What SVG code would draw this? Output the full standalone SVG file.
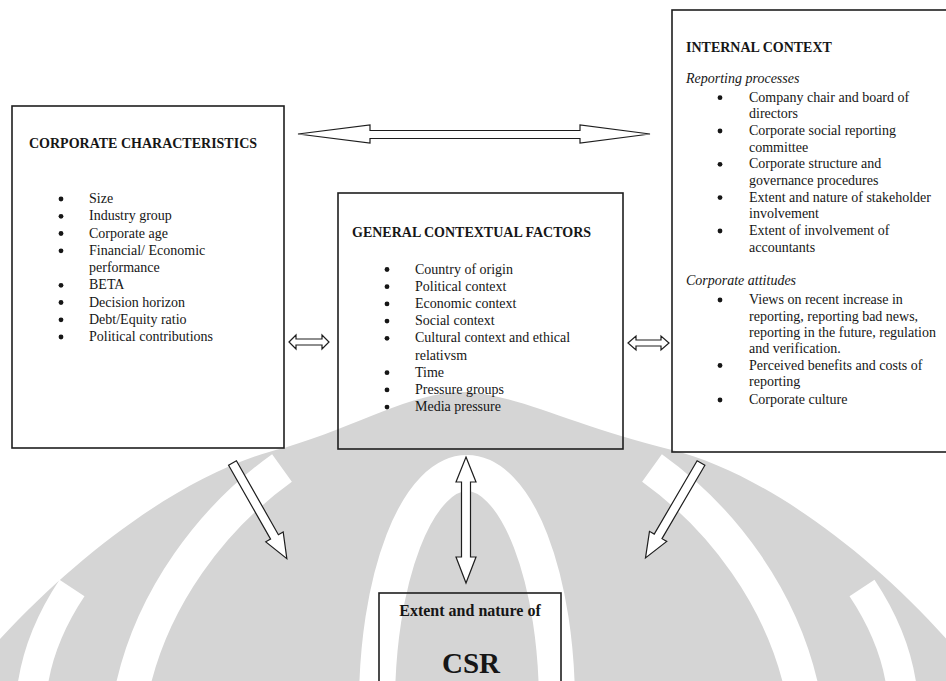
<svg xmlns="http://www.w3.org/2000/svg" width="946" height="681" viewBox="0 0 946 681">
<style>
.box{fill:none;stroke:#1e1e1e;stroke-width:1.6}
.arr{fill:#fff;stroke:#1e1e1e;stroke-width:1.2;stroke-linejoin:miter}
.t{font-family:"Liberation Serif","Times New Roman",serif;font-size:14px;fill:#161616}
.h{font-weight:bold}
.i{font-style:italic}
.wm{fill:#d5d5d5}
.wl{fill:none;stroke:#fff}
</style>
<defs>
<circle id="dot" r="2.4" fill="#161616"/>
</defs>
<rect width="946" height="681" fill="#fff"/>
<g id="watermark">
<path class="wm" d="M-10 681 L-10 650 C80 550 190 470 284 448 C360 425 410 393 462 392 C515 393 570 425 672 450 C760 472 870 550 956 650 L956 681 Z"/>
<path class="wl" stroke-width="34" d="M282 468 C212 518 152 598 132 690"/>
<path class="wl" stroke-width="34" d="M652 468 C722 518 782 598 802 690"/>
<path class="wl" stroke-width="30" d="M72 588 C52 618 37 650 32 690"/>
<path class="wl" stroke-width="30" d="M862 588 C882 618 897 650 902 690"/>
<ellipse class="wl" stroke-width="36" cx="467" cy="705" rx="90" ry="232"/>
</g>
<g id="corporate-characteristics">
<rect class="box" x="12" y="106" width="272" height="342"/>
<text class="t h" x="29" y="148">CORPORATE CHARACTERISTICS</text>
<g>
<use href="#dot" x="61" y="199"/><use href="#dot" x="61" y="216.3"/><use href="#dot" x="61" y="233.5"/><use href="#dot" x="61" y="250.8"/><use href="#dot" x="61" y="285.3"/><use href="#dot" x="61" y="302.5"/><use href="#dot" x="61" y="319.8"/><use href="#dot" x="61" y="337"/>
</g>
<g class="t">
<text x="89" y="203">Size</text>
<text x="89" y="220.3">Industry group</text>
<text x="89" y="237.5">Corporate age</text>
<text x="89" y="254.8">Financial/ Economic</text>
<text x="89" y="272">performance</text>
<text x="89" y="289.3">BETA</text>
<text x="89" y="306.5">Decision horizon</text>
<text x="89" y="323.8">Debt/Equity ratio</text>
<text x="89" y="341">Political contributions</text>
</g>
</g>
<g id="general-contextual-factors">
<rect class="box" x="338" y="193" width="285" height="256"/>
<text class="t h" x="352" y="237">GENERAL CONTEXTUAL FACTORS</text>
<g>
<use href="#dot" x="387" y="269.5"/><use href="#dot" x="387" y="286.7"/><use href="#dot" x="387" y="303.9"/><use href="#dot" x="387" y="321.1"/><use href="#dot" x="387" y="338.3"/><use href="#dot" x="387" y="372.7"/><use href="#dot" x="387" y="389.9"/><use href="#dot" x="387" y="407.1"/>
</g>
<g class="t">
<text x="415" y="273.5">Country of origin</text>
<text x="415" y="290.7">Political context</text>
<text x="415" y="307.9">Economic context</text>
<text x="415" y="325.1">Social context</text>
<text x="415" y="342.3">Cultural context and ethical</text>
<text x="415" y="359.5">relativsm</text>
<text x="415" y="376.7">Time</text>
<text x="415" y="393.9">Pressure groups</text>
<text x="415" y="411.1">Media pressure</text>
</g>
</g>
<g id="internal-context">
<rect class="box" x="672" y="10" width="290" height="442"/>
<text class="t h" x="686" y="52">INTERNAL CONTEXT</text>
<g>
<use href="#dot" x="720" y="97.7"/><use href="#dot" x="720" y="131"/><use href="#dot" x="720" y="164.3"/><use href="#dot" x="720" y="197.6"/><use href="#dot" x="720" y="231"/><use href="#dot" x="720" y="300"/><use href="#dot" x="720" y="365.5"/><use href="#dot" x="720" y="400"/>
</g>
<g class="t">
<text class="i" x="686" y="83">Reporting processes</text>
<text x="749" y="101.7">Company chair and board of</text>
<text x="749" y="118.3">directors</text>
<text x="749" y="135">Corporate social reporting</text>
<text x="749" y="151.6">committee</text>
<text x="749" y="168.3">Corporate structure and</text>
<text x="749" y="185">governance procedures</text>
<text x="749" y="201.6">Extent and nature of stakeholder</text>
<text x="749" y="218.3">involvement</text>
<text x="749" y="235">Extent of involvement of</text>
<text x="749" y="251.6">accountants</text>
<text class="i" x="686" y="285">Corporate attitudes</text>
<text x="749" y="304">Views on recent increase in</text>
<text x="749" y="320.5">reporting, reporting bad news,</text>
<text x="749" y="337">reporting in the future, regulation</text>
<text x="749" y="353">and verification.</text>
<text x="749" y="369.5">Perceived benefits and costs of</text>
<text x="749" y="386">reporting</text>
<text x="749" y="404">Corporate culture</text>
</g>
</g>
<g id="csr">
<rect class="box" x="379" y="593" width="182" height="100"/>
<text class="t h" x="470" y="616" style="font-size:16px;text-anchor:middle">Extent and nature of</text>
<text class="t h" x="471" y="673" style="font-size:29px;text-anchor:middle">CSR</text>
</g>
<g id="connectors">
<polygon class="arr" points="298,134 370,125 370,130.5 580,130.5 580,125 650,134 580,143 580,138.5 370,138.5 370,143"/>
<polygon class="arr" points="289,342 296,335 296,339 322,339 322,335 329,342 322,349 322,345 296,345 296,349"/>
<polygon class="arr" points="628,343 636,336 636,340 661,340 661,336 669,343 661,350 661,346 636,346 636,350"/>
<polygon class="arr" points="466,457 476,482 470.5,482 470.5,557 476,557 466,583 456,557 461.5,557 461.5,482 456,482"/>
<polygon class="arr" transform="translate(232.5,463) rotate(60.4)" points="0,-4.5 85,-4.5 85,-10 110,0 85,10 85,4.5 0,4.5"/>
<polygon class="arr" transform="translate(701,463) rotate(120.3)" points="0,-4.5 85,-4.5 85,-10 110,0 85,10 85,4.5 0,4.5"/>
</g>
</svg>
